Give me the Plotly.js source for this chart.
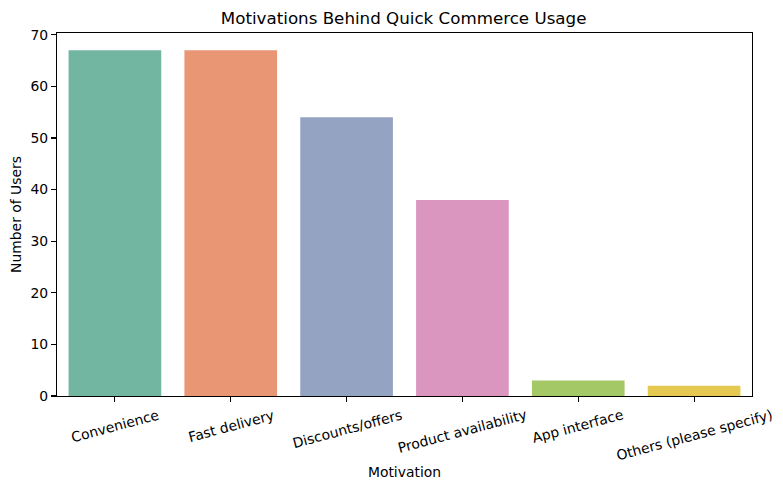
<!DOCTYPE html>
<html>
<head>
<meta charset="utf-8">
<script src="https://cdn.plot.ly/plotly-3.0.1.min.js"></script>
<style>html,body{margin:0;padding:0;background:#fff;}#chart{width:783px;height:490px;}</style>
</head>
<body>
<div id="chart"></div>
<script>
const categories = ["Convenience", "Fast delivery", "Discounts/offers", "Product availability", "App interface", "Others (please specify)"];
const users = [67, 67, 54, 38, 3, 2];
const barColors = ["#72b6a1", "#e99675", "#95a3c3", "#db96c0", "#a4c865", "#e5c84f"];
const yTicks = [0, 10, 20, 30, 40, 50, 60, 70];

const FONT = "DejaVu Sans, sans-serif";
const xIdx = categories.map((_, i) => i);

const trace = {
  type: "bar",
  x: xIdx,
  y: users,
  width: 0.8,
  marker: {color: barColors, line: {width: 0}},
  hoverinfo: "x+y"
};

const annotations = categories.map((c, i) => ({
  x: i, xref: "x", y: 0, yref: "paper",
  text: c, showarrow: false, textangle: -15,
  xanchor: "center", yanchor: "top", yshift: -8,
  font: {family: FONT, size: 13.9, color: "#000"}
}));

const layout = {
  width: 783, height: 490,
  margin: {l: 57, r: 31, t: 33, b: 94},
  paper_bgcolor: "#fff", plot_bgcolor: "#fff",
  font: {family: FONT, size: 13.9, color: "#000"},
  title: {text: "Motivations Behind Quick Commerce Usage", font: {family: FONT, size: 16.7, color: "#000"}, x: 0.5155, xanchor: "center", y: 0.963, yanchor: "middle"},
  showlegend: false,
  bargap: 0.2,
  xaxis: {
    range: [-0.5, 5.5], tickmode: "array", tickvals: xIdx, ticktext: categories,
    showticklabels: false, ticks: "outside", ticklen: 5, tickwidth: 1.1, tickcolor: "#000",
    showline: true, linecolor: "#000", linewidth: 1.1, mirror: true, showgrid: false, zeroline: false,
    title: {text: "Motivation", font: {family: FONT, size: 13.9, color: "#000"}, standoff: 66}
  },
  yaxis: {
    range: [0, 70.35], tickmode: "array", tickvals: yTicks,
    ticks: "outside", ticklen: 5, tickwidth: 1.1, tickcolor: "#000",
    showline: true, linecolor: "#000", linewidth: 1.1, mirror: true, showgrid: false, zeroline: false,
    tickfont: {family: FONT, size: 13.9, color: "#000"},
    title: {text: "Number of Users", font: {family: FONT, size: 13.9, color: "#000"}, standoff: 5}
  },
  annotations: annotations
};

Plotly.newPlot("chart", [trace], layout, {displayModeBar: false, staticPlot: true});
</script>
</body>
</html>
